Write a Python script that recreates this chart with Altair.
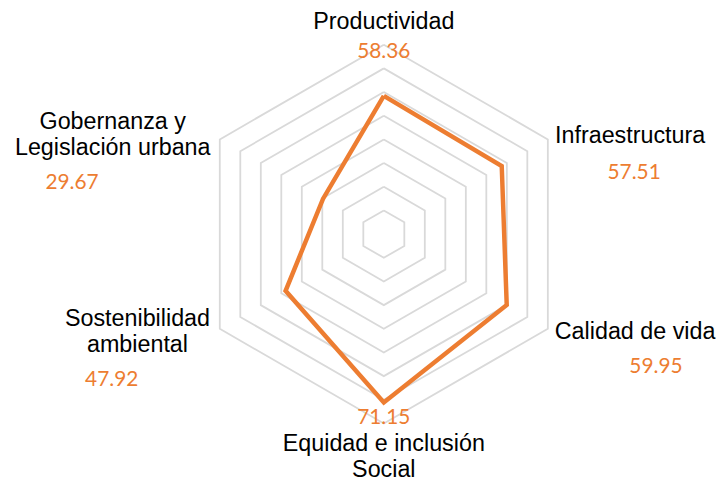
import altair as alt
import pandas as pd
import numpy as np

# ---- data ----
categories = ["Productividad", "Infraestructura", "Calidad de vida",
              "Equidad e inclusión\nSocial", "Sostenibilidad\nambiental",
              "Gobernanza y\nLegislación urbana"]
values = [58.36, 57.51, 59.95, 71.15, 47.92, 29.67]
value_labels = ["58.36", "57.51", "59.95", "71.15", "47.92", "29.67"]
ring_levels = [10, 20, 30, 40, 50, 60, 70, 80]
max_value = 80

# ---- layout (pixels) ----
W, H = 700, 465
cx_px, cy_px = 379, 225          # centre inside the plot area
k = 191 / max_value              # pixels per unit
x_dom = [-cx_px / k, (W - cx_px) / k]
y_dom = [-(H - cy_px) / k, cy_px / k]

# label offsets (pixels) from each outer vertex (first line of text)
cat_dx = [0, 83, 88, 0, -83, -108]
cat_dy = [-23, -3, 3, 21, -10, -17]
val_dx = [0, 87, 109, 0, -109, -149]
val_dy = [7, 34, 39, -5, 52, 44]

n = len(categories)

def ang(i):
    return np.pi / 2 - i * 2 * np.pi / n

# series polygon (closed)
idx = list(range(n)) + [0]
series = pd.DataFrame({
    "order": list(range(n + 1)),
    "value": [values[i] for i in idx],
    "angle": [ang(i) for i in idx],
})

# grid rings
grid_rows = []
for lv in ring_levels:
    for j, i in enumerate(idx):
        grid_rows.append({"level": lv, "order": j, "angle": ang(i)})
grid = pd.DataFrame(grid_rows)

labels = pd.DataFrame({
    "cat": categories,
    "val": value_labels,
    "angle": [ang(i) for i in range(n)],
    "cdx": cat_dx, "cdy": cat_dy, "vdx": val_dx, "vdy": val_dy,
})

xs = alt.Scale(domain=x_dom, nice=False, zero=False)
ys = alt.Scale(domain=y_dom, nice=False, zero=False)

grid_layer = alt.Chart(grid).transform_calculate(
    gx="datum.level * cos(datum.angle)",
    gy="datum.level * sin(datum.angle)",
).mark_line(color="#d9d9d9", strokeWidth=1.8).encode(
    x=alt.X("gx:Q", scale=xs, axis=None),
    y=alt.Y("gy:Q", scale=ys, axis=None),
    detail="level:N",
    order="order:Q",
)

series_layer = alt.Chart(series).transform_calculate(
    sx="datum.value * cos(datum.angle)",
    sy="datum.value * sin(datum.angle)",
).mark_line(color="#ED7D31", strokeWidth=4.5, strokeJoin="miter").encode(
    x=alt.X("sx:Q", scale=xs, axis=None),
    y=alt.Y("sy:Q", scale=ys, axis=None),
    order="order:Q",
)

cat_layer = alt.Chart(labels).transform_calculate(
    lx=f"{max_value} * cos(datum.angle) + datum.cdx / {k}",
    ly=f"{max_value} * sin(datum.angle) - datum.cdy / {k}",
).mark_text(font="Liberation Sans", fontSize=23.5, color="#000000",
            lineBreak="\n", lineHeight=26, align="center", baseline="middle").encode(
    x=alt.X("lx:Q", scale=xs, axis=None),
    y=alt.Y("ly:Q", scale=ys, axis=None),
    text="cat:N",
)

val_layer = alt.Chart(labels).transform_calculate(
    vx=f"{max_value} * cos(datum.angle) + datum.vdx / {k}",
    vy=f"{max_value} * sin(datum.angle) - datum.vdy / {k}",
).mark_text(font="Lato", fontSize=21, color="#ED7D31",
            align="center", baseline="middle").encode(
    x=alt.X("vx:Q", scale=xs, axis=None),
    y=alt.Y("vy:Q", scale=ys, axis=None),
    text="val:N",
)

chart = alt.layer(grid_layer, series_layer, cat_layer, val_layer).properties(
    width=W, height=H, padding=0
).configure_view(stroke=None)

chart.save("out.html", embed_options={"renderer": "svg", "actions": False})
